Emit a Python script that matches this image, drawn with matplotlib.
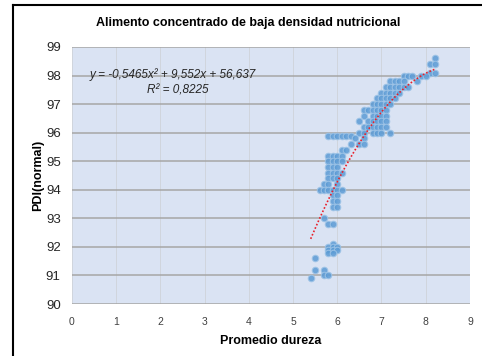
import numpy as np
import matplotlib
matplotlib.use('Agg')
import matplotlib.pyplot as plt
from matplotlib.lines import Line2D

plt.rcParams['font.family'] = ['Liberation Sans', 'DejaVu Sans']

# puntos (dureza, PDI), agrupados por fila de PDI
rows = {
    98.6: [8.2],
    98.4: [8.1, 8.2],
    98.1: [8.1, 8.2],
    98.0: [7.5, 7.6, 7.7, 7.9, 8.0],
    97.8: [7.2, 7.3, 7.4, 7.5, 7.8],
    97.6: [7.1, 7.2, 7.3, 7.4, 7.5, 7.6],
    97.4: [7.0, 7.1, 7.2, 7.3, 7.4],
    97.2: [6.9, 7.0, 7.1, 7.2, 7.3],
    97.0: [6.8, 6.9, 7.0, 7.1, 7.2],
    96.8: [6.6, 6.7, 6.8, 6.9, 7.0, 7.1],
    96.6: [6.6, 6.8, 6.9, 7.0, 7.1],
    96.4: [6.5, 6.7, 6.8, 6.9, 7.0, 7.1],
    96.2: [6.6, 6.7, 6.8, 6.9, 7.0, 7.1],
    96.0: [6.5, 6.6, 6.8, 6.9, 7.0, 7.2],
    95.9: [5.8, 5.9, 6.0, 6.1, 6.2, 6.3],
    95.8: [6.4, 6.6],
    95.6: [6.3, 6.5, 6.6],
    95.4: [6.1, 6.2],
    95.2: [5.8, 5.9, 6.0, 6.1],
    95.0: [5.8, 5.9, 6.0, 6.1],
    94.8: [5.8, 5.9, 6.0],
    94.6: [5.8, 5.9, 6.0, 6.1],
    94.4: [5.8, 5.9, 6.0],
    94.2: [5.7, 5.8, 6.0],
    94.0: [5.6, 5.7, 5.8, 5.9, 6.0, 6.1],
    93.8: [5.9, 6.0],
    93.6: [5.9, 6.0],
    93.4: [5.9, 6.0],
    93.0: [5.7],
    92.8: [5.8, 5.9],
    92.1: [5.9],
    92.0: [5.8, 5.9, 6.0],
    91.9: [5.8, 5.9, 6.0],
    91.8: [5.8, 5.9],
    91.6: [5.5],
    91.2: [5.5, 5.7],
    91.0: [5.7, 5.8],
    90.9: [5.4],
}
dureza = [x for y, xs in rows.items() for x in xs]
pdi = [y for y, xs in rows.items() for x in xs]

# linea de tendencia polinomica (coeficientes del grafico)
coef = [-0.5465, 9.552, 56.637]
r2 = 0.8225

fig = plt.figure(figsize=(4.82, 3.56), dpi=100)
ax = fig.add_axes([0.149, 0.146, 0.826, 0.722])
ax.set_facecolor('#DAE3F3')

ax.scatter(dureza, pdi, s=22, color='#5B9BD5', edgecolors='#9DC3E6',
           linewidths=0.8, alpha=0.85, zorder=3)

xt = np.linspace(min(dureza), max(dureza), 100)
ax.plot(xt, np.polyval(coef, xt), color='#E8202A', ls=(0, (1, 1.2)),
        lw=1.2, zorder=4)

ax.set_xlim(0, 9)
ax.set_ylim(90, 99)
ax.set_xticks(range(0, 10))
ax.set_yticks(range(90, 100))
ax.grid(axis='y', color='#A6A6A6', lw=1.1, zorder=1)
ax.grid(axis='x', color='#D0D5DD', lw=0.7, zorder=1)
for s in ax.spines.values():
    s.set_visible(False)
ax.tick_params(length=0)
ax.tick_params(axis='y', labelsize=9.5, colors='#262626', pad=8)
ax.tick_params(axis='x', labelsize=7.5, colors='#404040', pad=9)

ax.set_xlabel('Promedio dureza', fontsize=9, fontweight='bold', labelpad=6)
ax.set_ylabel('PDI(normal)', fontsize=9, fontweight='bold', labelpad=1)
fig.text(0.515, 0.935, 'Alimento concentrado de baja densidad nutricional',
         ha='center', va='center', fontsize=9, fontweight='bold')

eq = 'y = %sx² + %sx + %s' % (str(coef[0]).replace('.', ','),
                              str(coef[1]).replace('.', ','),
                              str(coef[2]).replace('.', ','))
ax.text(0.4, 98.03, eq, fontsize=8.5, style='italic', color='#262626',
        va='center', zorder=5)
ax.text(1.7, 97.48, 'R² = ' + str(r2).replace('.', ','), fontsize=8.5,
        style='italic', color='#262626', va='center', zorder=5)

# marco de la imagen
fig.add_artist(Line2D([0.027, 0.027], [0, 0.986], color='black', lw=1.5,
                      transform=fig.transFigure))
fig.add_artist(Line2D([0.027, 1], [0.986, 0.986], color='black', lw=1.5,
                      transform=fig.transFigure))

plt.savefig('out.png', dpi=100)
